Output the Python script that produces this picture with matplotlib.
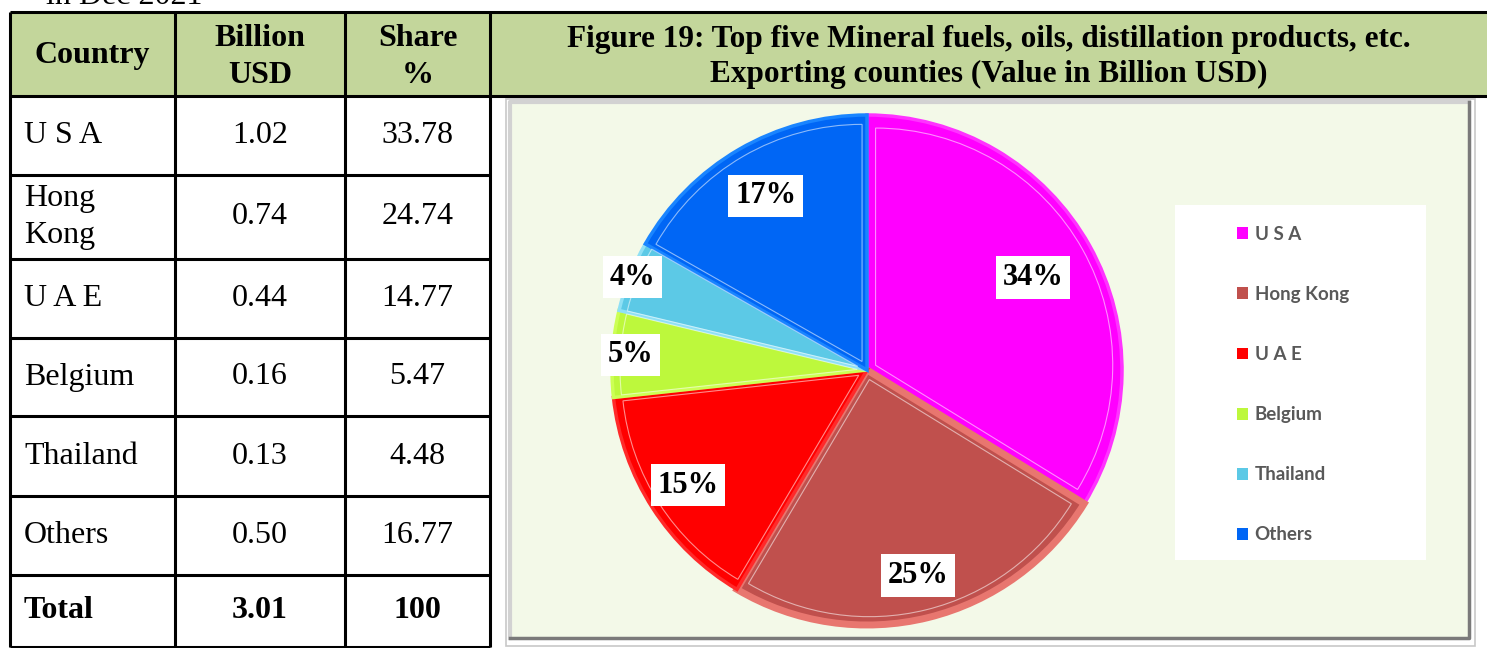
import matplotlib
matplotlib.use("Agg")
import matplotlib.pyplot as plt
from matplotlib.patches import Rectangle, PathPatch
from matplotlib.path import Path
import numpy as np

# table / chart data
countries = ["U S A", "Hong Kong", "U A E", "Belgium", "Thailand", "Others"]
table_names = ["U S A", "Hong\nKong", "U A E", "Belgium", "Thailand", "Others"]
billion_usd = ["1.02", "0.74", "0.44", "0.16", "0.13", "0.50"]
share_pct = [33.78, 24.74, 14.77, 5.47, 4.48, 16.77]
total_usd = "3.01"
total_share = "100"
headers = ["Country", "Billion\nUSD", "Share\n%"]
title_lines = ["Figure 19: Top five Mineral fuels, oils, distillation products, etc.",
               "Exporting counties (Value in Billion USD)"]

colors = ["#FF00FF", "#C0504D", "#FF0000", "#BDF83C", "#5CC9E6", "#0066F5"]
edge_colors = ["#FF33FF", "#E8766F", "#FF2A2A", "#CCFF55", "#8FE0F5", "#1A85FF"]

W, H = 1487, 648
SERIF = "Liberation Serif"
GREEN = "#C3D69B"

fig = plt.figure(figsize=(W / 100, H / 100), dpi=100)
ax = fig.add_axes([0, 0, 1, 1])
ax.set_xlim(0, W)
ax.set_ylim(H, 0)
ax.axis("off")

# text above the table (cut off by the crop, as in the source page)
ax.text(46, 4, "in Dec 2021", fontsize=23, family=SERIF, va="baseline", ha="left")

# table grid
col_x = [10, 175, 345, 490]
row_y = [12, 96, 175, 259, 338, 416, 496, 575, 647]

ax.add_patch(Rectangle((col_x[0], row_y[0]), W - col_x[0], row_y[1] - row_y[0],
                       facecolor=GREEN, edgecolor="none", zorder=0))
for y in row_y[:2]:
    ax.plot([col_x[0], W], [y, y], color="black", lw=2.2, solid_capstyle="butt")
for y in row_y[2:]:
    ax.plot([col_x[0], col_x[-1]], [y, y], color="black", lw=2.2, solid_capstyle="butt")
for x in col_x:
    ax.plot([x, x], [row_y[0], row_y[-1]], color="black", lw=2.2, solid_capstyle="butt")

col_c = [(col_x[i] + col_x[i + 1]) / 2 for i in range(3)]
hy = (row_y[0] + row_y[1]) / 2
for i, h in enumerate(headers):
    ax.text(col_c[i], hy + (1 if "\n" not in h else 3), h, fontsize=23, family=SERIF,
            weight="bold", ha="center", va="center", linespacing=1.4)

for i, name in enumerate(table_names):
    yc = (row_y[i + 1] + row_y[i + 2]) / 2
    ax.text(24, yc, name, fontsize=23, family=SERIF, ha="left", va="center",
            linespacing=1.4)
    ax.text(col_c[1], yc, billion_usd[i], fontsize=23, family=SERIF,
            ha="center", va="center")
    ax.text(col_c[2], yc, f"{share_pct[i]:.2f}", fontsize=23, family=SERIF,
            ha="center", va="center")

yc = (row_y[-2] + row_y[-1]) / 2
ax.text(24, yc, "Total", fontsize=23, family=SERIF, weight="bold", ha="left", va="center")
ax.text(col_c[1], yc, total_usd, fontsize=23, family=SERIF, weight="bold",
        ha="center", va="center")
ax.text(col_c[2], yc, total_share, fontsize=23, family=SERIF, weight="bold",
        ha="center", va="center")

# chart title in the green cell
for line, ty in zip(title_lines, [39, 74]):
    ax.text(989, ty, line, fontsize=22.5, family=SERIF, weight="bold",
            ha="center", va="center")

# chart frame with bevel
ax.add_patch(Rectangle((506, 99), 969, 547, facecolor="none", edgecolor="#C8C8C8", lw=1.2))
ax.add_patch(Rectangle((510, 102), 960, 537, facecolor="#F3F9E8", edgecolor="none"))
ax.plot([510, 510, 1469], [638, 102, 102], color="#D2D2D2", lw=3)
ax.plot([510, 1469, 1469], [638, 638, 102], color="#7A7A7A", lw=2.5)

# legend background
ax.add_patch(Rectangle((1175, 205), 251, 355, facecolor="white", edgecolor="none"))

# pie
cx, cy, R = 867, 370, 255
pax = fig.add_axes([(cx - R) / W, 1 - (cy + R) / H, 2 * R / W, 2 * R / H])
wedges, _, autotexts = pax.pie(
    share_pct, colors=colors, startangle=90, counterclock=False,
    autopct="%1.0f%%", radius=1.0,
    wedgeprops=dict(linewidth=2.5),
    textprops=dict(fontsize=22, family=SERIF, weight="bold", color="black"))
pax.set_xlim(-1, 1)
pax.set_ylim(-1, 1)
pax.set_aspect("equal")
pax.axis("off")

label_dist = [0.745, 0.83, 0.835, 0.93, 0.99, 0.79]
for w, ec, t, d in zip(wedges, edge_colors, autotexts, label_dist):
    w.set_edgecolor(ec)
    # thin inner highlight line, inset from the wedge border
    verts = w.get_path().vertices
    ang = np.deg2rad((w.theta1 + w.theta2) / 2)
    c = np.array([0.55 * np.cos(ang), 0.55 * np.sin(ang)])
    inset = c + (verts - c) * 0.93
    pax.add_patch(PathPatch(Path(inset, w.get_path().codes), facecolor="none",
                            edgecolor="white", lw=0.8, alpha=0.55))
    t.set_position((d * np.cos(ang), d * np.sin(ang)))
    t.set_bbox(dict(boxstyle="square,pad=0.22", facecolor="white", edgecolor="none"))
    t.set_zorder(5)
wedges[1].set_linewidth(5)

leg = fig.legend(wedges, countries, loc="upper left",
                 bbox_to_anchor=(1220 / W, 1 - 209 / H), frameon=False,
                 labelcolor="#595959", handlelength=0.6,
                 handleheight=0.6, handletextpad=0.35, labelspacing=2.3,
                 prop=dict(family="Lato", size=13.5, weight="bold"))
for h in leg.legend_handles:
    h.set_edgecolor("none")
    h.set_linewidth(0)

fig.savefig("out.png", dpi=100)
